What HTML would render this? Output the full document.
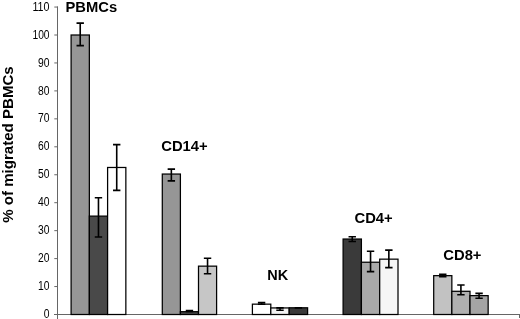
<!DOCTYPE html>
<html><head><meta charset="utf-8"><title>Chart</title>
<style>
html,body{margin:0;padding:0;background:#fff;}
body{width:520px;height:319px;overflow:hidden;}
svg{display:block;will-change:transform;transform:translateZ(0);}
text{font-family:"Liberation Sans",Arial,sans-serif;fill:#000;}
.b{font-weight:bold;font-size:14.5px;}
.t{font-size:13.4px;}
</style></head><body>
<svg width="520" height="319" viewBox="0 0 520 319">
<rect width="520" height="319" fill="#fff"/>

<g stroke="#666" stroke-width="1" fill="none">
<line x1="57.5" y1="6.5" x2="57.5" y2="319"/>
<line x1="54" y1="314.5" x2="520" y2="314.5"/>
<line x1="519.5" y1="314.5" x2="519.5" y2="318"/>
<line x1="54.3" y1="286.55" x2="58" y2="286.55"/>
<line x1="54.3" y1="258.60" x2="58" y2="258.60"/>
<line x1="54.3" y1="230.65" x2="58" y2="230.65"/>
<line x1="54.3" y1="202.70" x2="58" y2="202.70"/>
<line x1="54.3" y1="174.75" x2="58" y2="174.75"/>
<line x1="54.3" y1="146.80" x2="58" y2="146.80"/>
<line x1="54.3" y1="118.85" x2="58" y2="118.85"/>
<line x1="54.3" y1="90.90" x2="58" y2="90.90"/>
<line x1="54.3" y1="62.95" x2="58" y2="62.95"/>
<line x1="54.3" y1="35.00" x2="58" y2="35.00"/>
<line x1="54.3" y1="7.05" x2="58" y2="7.05"/>
</g>
<text class="t" x="43.80" y="318.10" textLength="5.75" lengthAdjust="spacingAndGlyphs">0</text>
<text class="t" x="38.05" y="290.15" textLength="11.5" lengthAdjust="spacingAndGlyphs">10</text>
<text class="t" x="38.05" y="262.20" textLength="11.5" lengthAdjust="spacingAndGlyphs">20</text>
<text class="t" x="38.05" y="234.25" textLength="11.5" lengthAdjust="spacingAndGlyphs">30</text>
<text class="t" x="38.05" y="206.30" textLength="11.5" lengthAdjust="spacingAndGlyphs">40</text>
<text class="t" x="38.05" y="178.35" textLength="11.5" lengthAdjust="spacingAndGlyphs">50</text>
<text class="t" x="38.05" y="150.40" textLength="11.5" lengthAdjust="spacingAndGlyphs">60</text>
<text class="t" x="38.05" y="122.45" textLength="11.5" lengthAdjust="spacingAndGlyphs">70</text>
<text class="t" x="38.05" y="94.50" textLength="11.5" lengthAdjust="spacingAndGlyphs">80</text>
<text class="t" x="38.05" y="66.55" textLength="11.5" lengthAdjust="spacingAndGlyphs">90</text>
<text class="t" x="32.45" y="38.60" textLength="17.1" lengthAdjust="spacingAndGlyphs">100</text>
<text class="t" x="32.45" y="10.65" textLength="17.1" lengthAdjust="spacingAndGlyphs">110</text>
<rect x="71.10" y="35.00" width="18.25" height="279.50" fill="#969696" stroke="#000" stroke-width="1.25"/>
<rect x="89.35" y="216.12" width="18.25" height="98.38" fill="#494949" stroke="#000" stroke-width="1.25"/>
<rect x="107.60" y="167.48" width="18.25" height="147.02" fill="#ffffff" stroke="#000" stroke-width="1.25"/>
<path d="M80.22 23.10V45.60M76.52 23.10h7.4M76.52 45.60h7.4" stroke="#000" stroke-width="1.6" fill="none"/>
<path d="M98.47 197.70V237.00M94.77 197.70h7.4M94.77 237.00h7.4" stroke="#000" stroke-width="1.6" fill="none"/>
<path d="M116.72 144.60V190.40M113.02 144.60h7.4M113.02 190.40h7.4" stroke="#000" stroke-width="1.6" fill="none"/>
<rect x="162.30" y="174.05" width="18.1" height="140.45" fill="#969696" stroke="#000" stroke-width="1.25"/>
<rect x="180.40" y="311.70" width="18.1" height="2.80" fill="#494949" stroke="#000" stroke-width="1.25"/>
<rect x="198.50" y="266.15" width="18.1" height="48.35" fill="#c6c6c6" stroke="#000" stroke-width="1.25"/>
<path d="M171.35 169.10V180.90M167.65 169.10h7.4M167.65 180.90h7.4" stroke="#000" stroke-width="1.6" fill="none"/>
<path d="M189.45 310.60V311.50M185.75 310.60h7.4M185.75 311.50h7.4" stroke="#000" stroke-width="1.6" fill="none"/>
<path d="M207.55 258.20V273.80M203.85 258.20h7.4M203.85 273.80h7.4" stroke="#000" stroke-width="1.6" fill="none"/>
<rect x="252.40" y="304.16" width="18.4" height="10.34" fill="#ffffff" stroke="#000" stroke-width="1.25"/>
<rect x="270.80" y="307.93" width="18.4" height="6.57" fill="#f2f2f2" stroke="#000" stroke-width="1.25"/>
<rect x="289.20" y="307.79" width="18.4" height="6.71" fill="#3a3a3a" stroke="#000" stroke-width="1.25"/>
<path d="M261.60 302.50V304.20M257.90 302.50h7.4M257.90 304.20h7.4" stroke="#000" stroke-width="1.6" fill="none"/>
<path d="M280.00 307.90V310.20M276.30 307.90h7.4M276.30 310.20h7.4" stroke="#000" stroke-width="1.6" fill="none"/>
<path d="M298.40 307.80V307.90M294.70 307.80h7.4M294.70 307.90h7.4" stroke="#000" stroke-width="1.6" fill="none"/>
<rect x="343.10" y="239.03" width="18.3" height="75.47" fill="#3a3a3a" stroke="#000" stroke-width="1.25"/>
<rect x="361.40" y="262.23" width="18.3" height="52.27" fill="#a9a9a9" stroke="#000" stroke-width="1.25"/>
<rect x="379.70" y="259.16" width="18.3" height="55.34" fill="#f6f6f6" stroke="#000" stroke-width="1.25"/>
<path d="M352.25 236.70V241.50M348.55 236.70h7.4M348.55 241.50h7.4" stroke="#000" stroke-width="1.6" fill="none"/>
<path d="M370.55 251.20V271.60M366.85 251.20h7.4M366.85 271.60h7.4" stroke="#000" stroke-width="1.6" fill="none"/>
<path d="M388.85 250.10V267.60M385.15 250.10h7.4M385.15 267.60h7.4" stroke="#000" stroke-width="1.6" fill="none"/>
<rect x="433.70" y="275.65" width="18.15" height="38.85" fill="#c2c2c2" stroke="#000" stroke-width="1.25"/>
<rect x="451.85" y="291.30" width="18.15" height="23.20" fill="#b0b0b0" stroke="#000" stroke-width="1.25"/>
<rect x="470.00" y="295.63" width="18.15" height="18.87" fill="#a4a4a4" stroke="#000" stroke-width="1.25"/>
<path d="M442.77 274.30V276.80M439.07 274.30h7.4M439.07 276.80h7.4" stroke="#000" stroke-width="1.6" fill="none"/>
<path d="M460.92 285.00V294.70M457.22 285.00h7.4M457.22 294.70h7.4" stroke="#000" stroke-width="1.6" fill="none"/>
<path d="M479.07 293.40V298.30M475.38 293.40h7.4M475.38 298.30h7.4" stroke="#000" stroke-width="1.6" fill="none"/>
<text class="b" x="65.5" y="11.5" textLength="51.6" lengthAdjust="spacingAndGlyphs">PBMCs</text>
<text class="b" x="161.2" y="150.8" textLength="46.5" lengthAdjust="spacingAndGlyphs">CD14+</text>
<text class="b" x="267.2" y="279.6" textLength="20.9" lengthAdjust="spacingAndGlyphs">NK</text>
<text class="b" x="354.5" y="223.4" textLength="38.2" lengthAdjust="spacingAndGlyphs">CD4+</text>
<text class="b" x="443.3" y="259.8" textLength="38.2" lengthAdjust="spacingAndGlyphs">CD8+</text>
<text class="b" transform="translate(13.2,222.8) rotate(-90)" textLength="156.5" lengthAdjust="spacingAndGlyphs" style="font-size:14.5px">% of migrated PBMCs</text>
</svg></body></html>
